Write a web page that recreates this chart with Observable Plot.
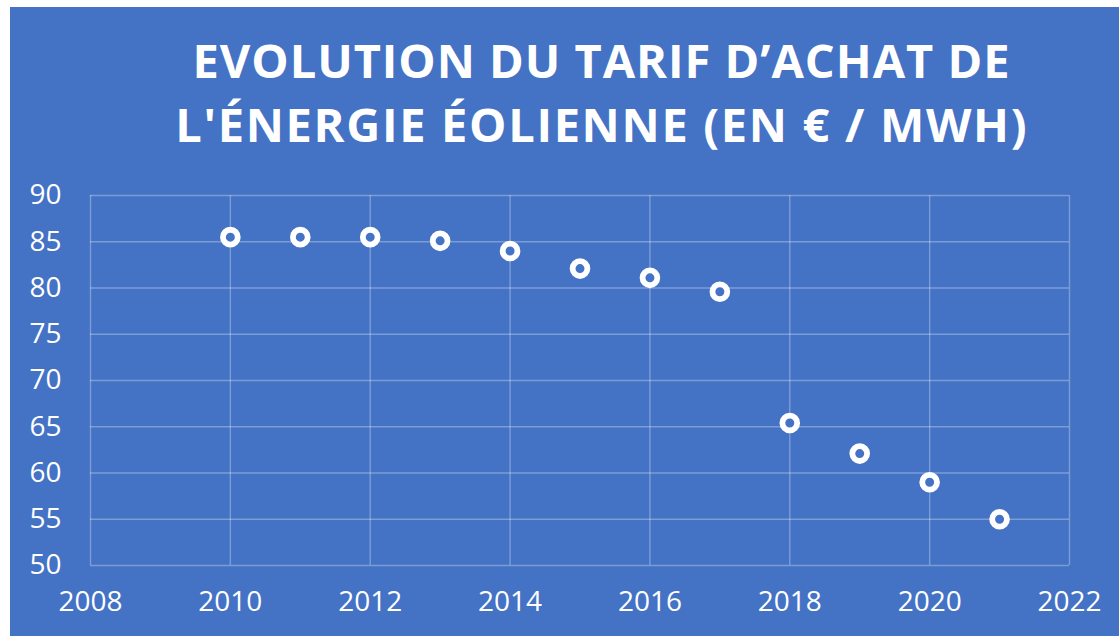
<!DOCTYPE html>
<html>
<head>
<meta charset="utf-8">
<script src="https://cdn.jsdelivr.net/npm/d3@7"></script>
<script src="https://cdn.jsdelivr.net/npm/@observablehq/plot@0.6"></script>
<style>
  html, body { margin: 0; padding: 0; background: #ffffff; width: 1119px; height: 636px; overflow: hidden; }
  #card { position: absolute; left: 10px; top: 7px; width: 1109px; height: 629px; background: #4472C4; }
  .title { position: absolute; left: 0; width: 1182px; text-align: center; color: #ffffff;
           font-family: "Open Sans", sans-serif; font-weight: 700; font-size: 47px; line-height: 1; white-space: nowrap; }
  #chart { position: absolute; left: 0; top: 0; }
</style>
</head>
<body>
<div id="card">
  <div id="chart"></div>
  <div class="title" id="t1"><span>EVOLUTION DU TARIF D’ACHAT DE</span></div>
  <div class="title" id="t2"><span>L'ÉNERGIE ÉOLIENNE (EN € / MWH)</span></div>
</div>
<script>
const years = [2010, 2011, 2012, 2013, 2014, 2015, 2016, 2017, 2018, 2019, 2020, 2021];
const tarifs = [85.5, 85.5, 85.5, 85.1, 84.0, 82.1, 81.1, 79.6, 65.4, 62.1, 59.0, 55.0];
const xTicks = [2008, 2010, 2012, 2014, 2016, 2018, 2020, 2022];
const yTicks = [50, 55, 60, 65, 70, 75, 80, 85, 90];

const data = years.map((y, i) => ({year: y, tarif: tarifs[i]}));
const bg = "#4472C4";

const chart = Plot.plot({
  width: 1109,
  height: 629,
  marginLeft: 80,
  marginRight: 50,
  marginTop: 188,
  marginBottom: 71,
  style: { background: "transparent", color: "#ffffff", fontFamily: "'Open Sans', sans-serif", fontSize: "28px" },
  x: { domain: [2008, 2022], ticks: xTicks, tickFormat: d => String(d), tickSize: 0, tickPadding: 26, label: null },
  y: { domain: [50, 90], ticks: yTicks, tickSize: 0, tickPadding: 29, label: null },
  marks: [
    Plot.ruleX(xTicks, { stroke: "#ffffff", strokeOpacity: 0.3, strokeWidth: 1.4 }),
    Plot.ruleY(yTicks, { stroke: "#ffffff", strokeOpacity: 0.3, strokeWidth: 1.4 }),
    Plot.dot(data, { x: "year", y: "tarif", r: 7.4, stroke: "#ffffff", strokeWidth: 5.8, fill: bg })
  ]
});
document.getElementById("chart").appendChild(chart);

// Title placement and spacing
function fit(id, top, target) {
  const el = document.getElementById(id);
  el.style.top = top + "px";
  const span = el.querySelector("span");
  const w = span.getBoundingClientRect().width;
  const n = span.textContent.length;
  const ls = (target - w) / n;
  span.style.letterSpacing = ls + "px";
  span.style.marginRight = (-ls) + "px";
}
fit("t1", 30, 818);
fit("t2", 94, 853);
</script>
</body>
</html>
